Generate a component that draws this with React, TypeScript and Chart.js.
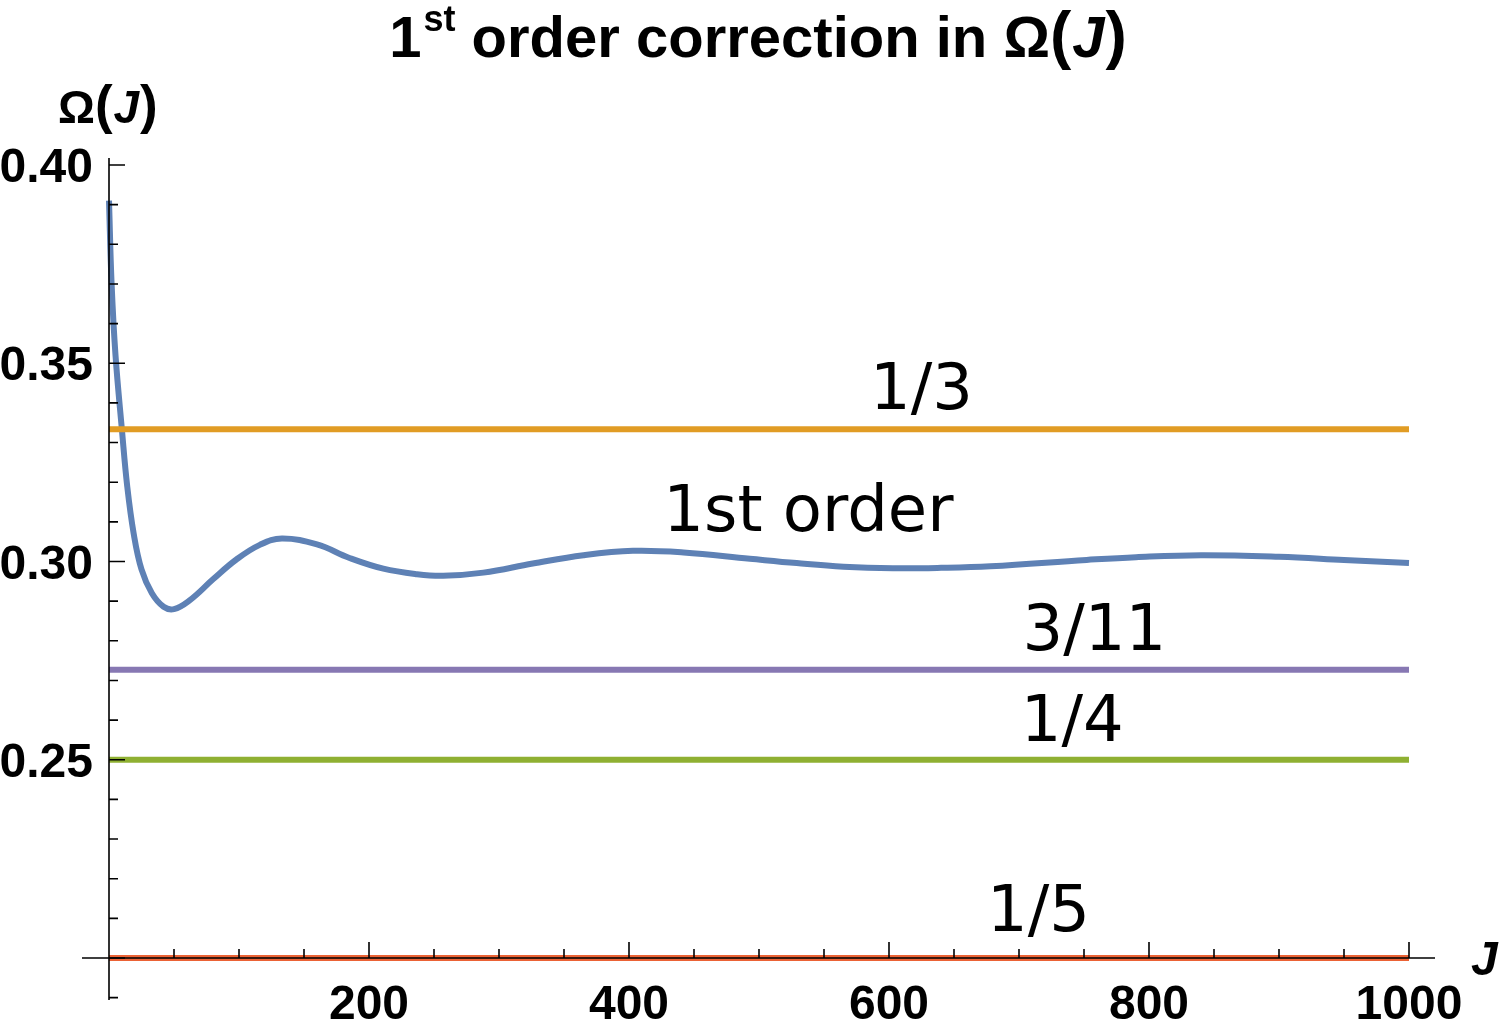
import { useEffect, useRef } from "react";
import { Chart, registerables } from "chart.js";

Chart.register(...registerables);

// ---- Data ----
const J_VALUES = [
  0, 2, 5, 10, 14, 19, 25, 33, 42, 50, 62, 80, 98, 116, 133, 160, 185,
  211, 237, 257, 288, 326, 365, 403, 442, 493, 529, 565, 603, 640, 678, 752,
  790, 840, 900, 950, 1000,
];
const FIRST_ORDER = [
  0.391, 0.37, 0.352, 0.333, 0.319, 0.307, 0.298, 0.292, 0.2886, 0.288,
  0.2902, 0.2955, 0.3005, 0.3042, 0.3058, 0.3043, 0.3009, 0.2982,
  0.2968, 0.2964, 0.2972, 0.2995, 0.3016, 0.3027, 0.3023, 0.3007, 0.2996,
  0.2987, 0.2983, 0.2984, 0.2988, 0.3004, 0.3011, 0.3016, 0.3012, 0.3004,
  0.2996,
];
const J_RANGE = [0, 1000];
const LEVEL_VALUES = [1 / 3, 3 / 11, 1 / 4, 1 / 5];
const LEVEL_NAMES = ["1/3", "3/11", "1/4", "1/5"];
const LEVEL_COLORS = ["#E19C24", "#8778B3", "#8FB032", "#EB6235"];
const CURVE_NAME = "1st order";
const CURVE_COLOR = "#5E81B5";

const X_MAJOR_TICKS = [0, 200, 400, 600, 800, 1000];
const X_TICK_LABELS = ["", "200", "400", "600", "800", "1000"];
const Y_MAJOR_TICKS = [0.2, 0.25, 0.3, 0.35, 0.4];
const Y_TICK_LABELS = ["", "0.25", "0.30", "0.35", "0.40"];

// label anchors in data coordinates (center J, baseline value)
const LABEL_TEXTS = ["1/3", "1st order", "3/11", "1/4", "1/5"];
const LABEL_J = [625, 538, 758, 741, 715];
const LABEL_Y = [0.3385, 0.3077, 0.2777, 0.2547, 0.2068];

const X_MIN = -20.77;
const X_MAX = 1020;
const Y_MIN = 0.18941;
const Y_MAX = 0.40177;

const BOLD = '"Liberation Sans", Arial, sans-serif';
const PLAIN = '"DejaVu Sans", sans-serif';

const axesPlugin = {
  id: "mmaAxes",
  afterDatasetsDraw(chart: any) {
    const ctx = chart.ctx as CanvasRenderingContext2D;
    const xs = chart.scales.x;
    const ys = chart.scales.y;
    const area = chart.chartArea;
    const x0 = xs.getPixelForValue(0);
    const y0 = ys.getPixelForValue(0.2);
    ctx.save();
    ctx.strokeStyle = "#000";
    ctx.lineWidth = 1.6;
    ctx.lineCap = "butt";
    // axis lines
    ctx.beginPath();
    ctx.moveTo(area.left, y0);
    ctx.lineTo(area.right, y0);
    ctx.moveTo(x0, area.top);
    ctx.lineTo(x0, area.bottom);
    ctx.stroke();
    // x ticks
    ctx.beginPath();
    for (let v = 50; v <= 1000; v += 50) {
      const px = xs.getPixelForValue(v);
      const major = v % 200 === 0;
      ctx.moveTo(px, y0);
      ctx.lineTo(px, y0 - (major ? 16 : 9));
    }
    // y ticks
    for (let i = 19; i <= 40; i++) {
      const v = i / 100;
      const py = ys.getPixelForValue(v);
      const major = i % 5 === 0;
      ctx.moveTo(x0, py);
      ctx.lineTo(x0 + (major ? 16 : 9), py);
    }
    ctx.stroke();

    // tick labels
    ctx.fillStyle = "#000";
    ctx.font = `bold 48px ${BOLD}`;
    ctx.textBaseline = "alphabetic";
    ctx.textAlign = "center";
    X_MAJOR_TICKS.forEach((v, i) => {
      if (!X_TICK_LABELS[i]) return;
      ctx.fillText(X_TICK_LABELS[i], xs.getPixelForValue(v), 1019);
    });
    ctx.textAlign = "right";
    Y_MAJOR_TICKS.forEach((v, i) => {
      if (!Y_TICK_LABELS[i]) return;
      ctx.fillText(Y_TICK_LABELS[i], 93, ys.getPixelForValue(v) + 17);
    });

    // axis labels
    const drawOmegaJ = (left: number, base: number, size: number, parenSize: number) => {
      let x = left;
      ctx.textAlign = "left";
      ctx.font = `bold ${size}px ${BOLD}`;
      ctx.fillText("Ω", x, base);
      x += ctx.measureText("Ω").width;
      ctx.font = `bold ${parenSize}px ${BOLD}`;
      ctx.fillText("(", x, base);
      x += ctx.measureText("(").width + 1;
      ctx.font = `italic bold ${size}px ${BOLD}`;
      ctx.fillText("J", x, base);
      x += ctx.measureText("J").width + 1;
      ctx.font = `bold ${parenSize}px ${BOLD}`;
      ctx.fillText(")", x, base);
      x += ctx.measureText(")").width;
      return x;
    };
    const measureOmegaJ = (size: number, parenSize: number) => {
      ctx.font = `bold ${size}px ${BOLD}`;
      let w = ctx.measureText("Ω").width;
      ctx.font = `italic bold ${size}px ${BOLD}`;
      w += ctx.measureText("J").width + 2;
      ctx.font = `bold ${parenSize}px ${BOLD}`;
      w += ctx.measureText("(").width + ctx.measureText(")").width;
      return w;
    };
    drawOmegaJ(58, 123, 46, 53);
    ctx.textAlign = "left";
    ctx.font = `italic bold 48px ${BOLD}`;
    ctx.fillText("J", 1471, 975);

    // title
    const tSize = 58;
    const base = 57;
    ctx.font = `bold ${tSize}px ${BOLD}`;
    const w1 = ctx.measureText("1").width;
    ctx.font = `bold 36px ${BOLD}`;
    const wSt = ctx.measureText("st").width;
    ctx.font = `bold ${tSize}px ${BOLD}`;
    const wMid = ctx.measureText(" order correction in ").width;
    const wOJ = measureOmegaJ(tSize, 64);
    const total = w1 + 2 + wSt + wMid + wOJ;
    let tx = 758 - total / 2;
    ctx.textAlign = "left";
    ctx.font = `bold ${tSize}px ${BOLD}`;
    ctx.fillText("1", tx, base);
    tx += w1 + 2;
    ctx.font = `bold 36px ${BOLD}`;
    ctx.fillText("st", tx, base - 26);
    tx += wSt;
    ctx.font = `bold ${tSize}px ${BOLD}`;
    ctx.fillText(" order correction in ", tx, base);
    tx += wMid;
    drawOmegaJ(tx, base, tSize, 64);

    // curve labels
    ctx.font = `64px ${PLAIN}`;
    ctx.textAlign = "center";
    LABEL_TEXTS.forEach((t, i) => {
      ctx.fillText(t, xs.getPixelForValue(LABEL_J[i]), ys.getPixelForValue(LABEL_Y[i]));
    });
    ctx.restore();
  },
};

export default function App() {
  const ref = useRef<HTMLCanvasElement | null>(null);
  useEffect(() => {
    if (!ref.current) return;
    const datasets: any[] = LEVEL_VALUES.map((v, i) => ({
      label: LEVEL_NAMES[i],
      data: J_RANGE.map((j) => ({ x: j, y: v })),
      borderColor: LEVEL_COLORS[i],
      borderWidth: 6,
      pointRadius: 0,
      fill: false,
    }));
    datasets.push({
      label: CURVE_NAME,
      data: J_VALUES.map((j, i) => ({ x: j, y: FIRST_ORDER[i] })),
      borderColor: CURVE_COLOR,
      borderWidth: 6,
      pointRadius: 0,
      fill: false,
      tension: 0.4,
      borderJoinStyle: "round",
    });
    const chart = new Chart(ref.current, {
      type: "line",
      data: { datasets },
      options: {
        animation: false,
        responsive: false,
        devicePixelRatio: 1,
        layout: { padding: { left: 82, right: 66, top: 158, bottom: 21 } },
        plugins: { legend: { display: false }, tooltip: { enabled: false }, title: { display: false } },
        scales: {
          x: { type: "linear", min: X_MIN, max: X_MAX, display: false },
          y: { type: "linear", min: Y_MIN, max: Y_MAX, display: false },
        },
      },
      plugins: [axesPlugin],
    });
    return () => chart.destroy();
  }, []);
  return (
    <div style={{ position: "absolute", left: 0, top: 0, width: 1501, height: 1021, background: "#fff" }}>
      <canvas ref={ref} width={1501} height={1021} style={{ width: 1501, height: 1021 }} />
    </div>
  );
}
